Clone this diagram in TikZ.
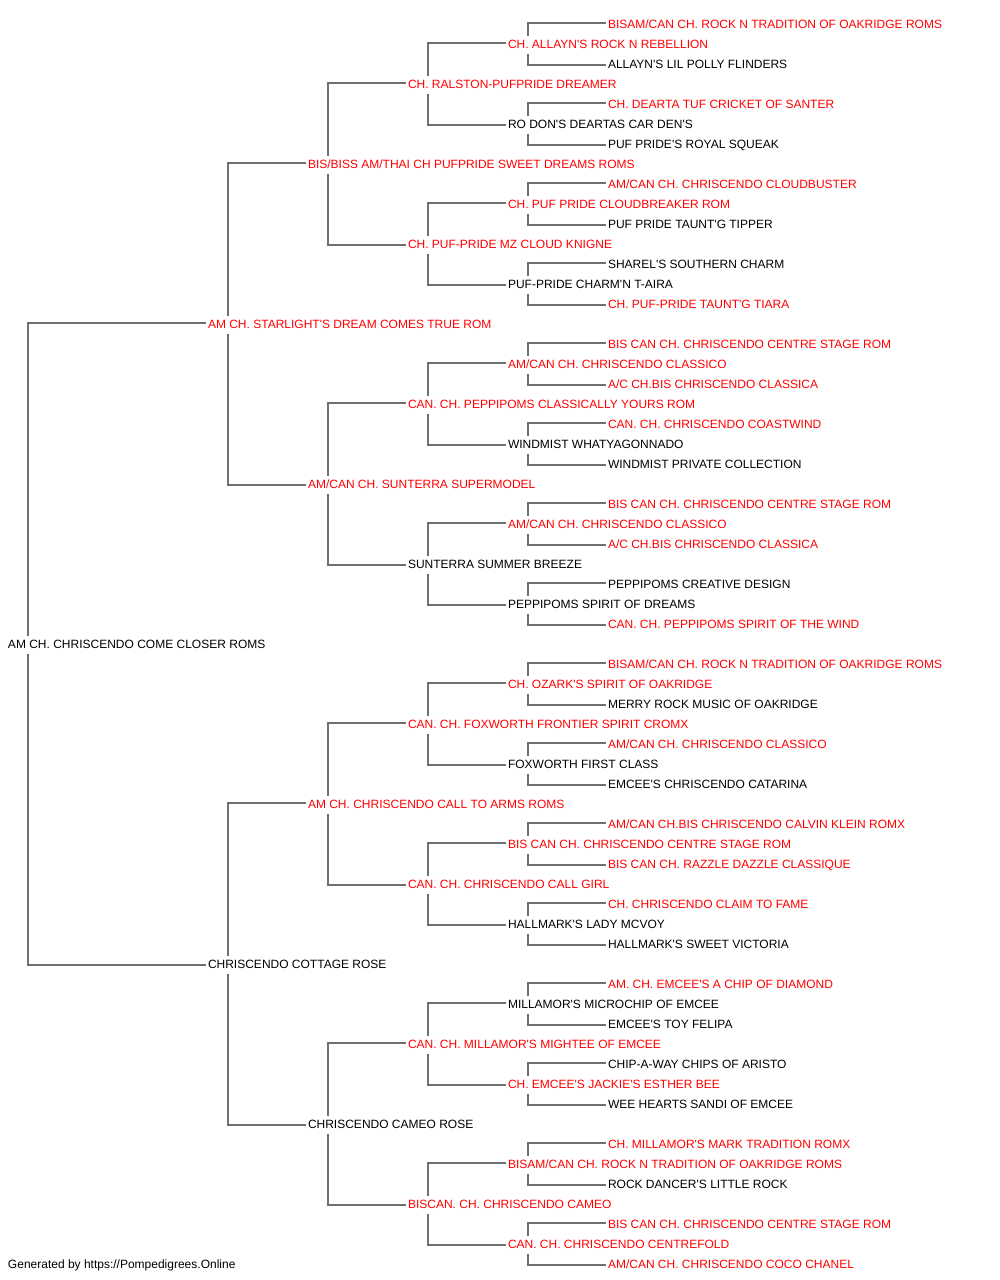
\documentclass[tikz,border=0pt]{standalone}
\usepackage{fontspec}
\newfontfamily\pf{Liberation Sans}
\definecolor{linkgray}{RGB}{112,112,112}
\definecolor{pedred}{RGB}{255,0,0}
\tikzset{
  nm/.style={anchor=base west, inner xsep=2.5pt, inner ysep=0pt, outer sep=0pt,
    text height=8.6pt, text depth=0pt, xshift=-2.5pt, yshift=-5pt,
    font=\pf\fontsize{12}{14}\selectfont},
  rd/.style={nm, text=pedred},
  bk/.style={nm, text=black},
  link/.style={draw=linkgray, line width=1.7pt}
}
\begin{document}
\begin{tikzpicture}[x=1pt,y=-1pt]
\useasboundingbox (0,0) rectangle (1000,1280);
\node[rd] (n0) at (608,23) {BISAM/CAN CH. ROCK N TRADITION OF OAKRIDGE ROMS};
\node[rd] (n1) at (508,43) {CH. ALLAYN'S ROCK N REBELLION};
\node[bk] (n2) at (608,63) {ALLAYN'S LIL POLLY FLINDERS};
\node[rd] (n3) at (408,83) {CH. RALSTON-PUFPRIDE DREAMER};
\node[rd] (n4) at (608,103) {CH. DEARTA TUF CRICKET OF SANTER};
\node[bk] (n5) at (508,123) {RO DON'S DEARTAS CAR DEN'S};
\node[bk] (n6) at (608,143) {PUF PRIDE'S ROYAL SQUEAK};
\node[rd] (n7) at (308,163) {BIS/BISS AM/THAI CH PUFPRIDE SWEET DREAMS ROMS};
\node[rd] (n8) at (608,183) {AM/CAN CH. CHRISCENDO CLOUDBUSTER};
\node[rd] (n9) at (508,203) {CH. PUF PRIDE CLOUDBREAKER ROM};
\node[bk] (n10) at (608,223) {PUF PRIDE TAUNT'G TIPPER};
\node[rd] (n11) at (408,243) {CH. PUF-PRIDE MZ CLOUD KNIGNE};
\node[bk] (n12) at (608,263) {SHAREL'S SOUTHERN CHARM};
\node[bk] (n13) at (508,283) {PUF-PRIDE CHARM'N T-AIRA};
\node[rd] (n14) at (608,303) {CH. PUF-PRIDE TAUNT'G TIARA};
\node[rd] (n15) at (208,323) {AM CH. STARLIGHT'S DREAM COMES TRUE ROM};
\node[rd] (n16) at (608,343) {BIS CAN CH. CHRISCENDO CENTRE STAGE ROM};
\node[rd] (n17) at (508,363) {AM/CAN CH. CHRISCENDO CLASSICO};
\node[rd] (n18) at (608,383) {A/C CH.BIS CHRISCENDO CLASSICA};
\node[rd] (n19) at (408,403) {CAN. CH. PEPPIPOMS CLASSICALLY YOURS ROM};
\node[rd] (n20) at (608,423) {CAN. CH. CHRISCENDO COASTWIND};
\node[bk] (n21) at (508,443) {WINDMIST WHATYAGONNADO};
\node[bk] (n22) at (608,463) {WINDMIST PRIVATE COLLECTION};
\node[rd] (n23) at (308,483) {AM/CAN CH. SUNTERRA SUPERMODEL};
\node[rd] (n24) at (608,503) {BIS CAN CH. CHRISCENDO CENTRE STAGE ROM};
\node[rd] (n25) at (508,523) {AM/CAN CH. CHRISCENDO CLASSICO};
\node[rd] (n26) at (608,543) {A/C CH.BIS CHRISCENDO CLASSICA};
\node[bk] (n27) at (408,563) {SUNTERRA SUMMER BREEZE};
\node[bk] (n28) at (608,583) {PEPPIPOMS CREATIVE DESIGN};
\node[bk] (n29) at (508,603) {PEPPIPOMS SPIRIT OF DREAMS};
\node[rd] (n30) at (608,623) {CAN. CH. PEPPIPOMS SPIRIT OF THE WIND};
\node[bk] (n31) at (8,643) {AM CH. CHRISCENDO COME CLOSER ROMS};
\node[rd] (n32) at (608,663) {BISAM/CAN CH. ROCK N TRADITION OF OAKRIDGE ROMS};
\node[rd] (n33) at (508,683) {CH. OZARK'S SPIRIT OF OAKRIDGE};
\node[bk] (n34) at (608,703) {MERRY ROCK MUSIC OF OAKRIDGE};
\node[rd] (n35) at (408,723) {CAN. CH. FOXWORTH FRONTIER SPIRIT CROMX};
\node[rd] (n36) at (608,743) {AM/CAN CH. CHRISCENDO CLASSICO};
\node[bk] (n37) at (508,763) {FOXWORTH FIRST CLASS};
\node[bk] (n38) at (608,783) {EMCEE'S CHRISCENDO CATARINA};
\node[rd] (n39) at (308,803) {AM CH. CHRISCENDO CALL TO ARMS ROMS};
\node[rd] (n40) at (608,823) {AM/CAN CH.BIS CHRISCENDO CALVIN KLEIN ROMX};
\node[rd] (n41) at (508,843) {BIS CAN CH. CHRISCENDO CENTRE STAGE ROM};
\node[rd] (n42) at (608,863) {BIS CAN CH. RAZZLE DAZZLE CLASSIQUE};
\node[rd] (n43) at (408,883) {CAN. CH. CHRISCENDO CALL GIRL};
\node[rd] (n44) at (608,903) {CH. CHRISCENDO CLAIM TO FAME};
\node[bk] (n45) at (508,923) {HALLMARK'S LADY MCVOY};
\node[bk] (n46) at (608,943) {HALLMARK'S SWEET VICTORIA};
\node[bk] (n47) at (208,963) {CHRISCENDO COTTAGE ROSE};
\node[rd] (n48) at (608,983) {AM. CH. EMCEE'S A CHIP OF DIAMOND};
\node[bk] (n49) at (508,1003) {MILLAMOR'S MICROCHIP OF EMCEE};
\node[bk] (n50) at (608,1023) {EMCEE'S TOY FELIPA};
\node[rd] (n51) at (408,1043) {CAN. CH. MILLAMOR'S MIGHTEE OF EMCEE};
\node[bk] (n52) at (608,1063) {CHIP-A-WAY CHIPS OF ARISTO};
\node[rd] (n53) at (508,1083) {CH. EMCEE'S JACKIE'S ESTHER BEE};
\node[bk] (n54) at (608,1103) {WEE HEARTS SANDI OF EMCEE};
\node[bk] (n55) at (308,1123) {CHRISCENDO CAMEO ROSE};
\node[rd] (n56) at (608,1143) {CH. MILLAMOR'S MARK TRADITION ROMX};
\node[rd] (n57) at (508,1163) {BISAM/CAN CH. ROCK N TRADITION OF OAKRIDGE ROMS};
\node[bk] (n58) at (608,1183) {ROCK DANCER'S LITTLE ROCK};
\node[rd] (n59) at (408,1203) {BISCAN. CH. CHRISCENDO CAMEO};
\node[rd] (n60) at (608,1223) {BIS CAN CH. CHRISCENDO CENTRE STAGE ROM};
\node[rd] (n61) at (508,1243) {CAN. CH. CHRISCENDO CENTREFOLD};
\node[rd] (n62) at (608,1263) {AM/CAN CH. CHRISCENDO COCO CHANEL};
\node[bk] (footer) at (8,1263) {Generated by https://Pompedigrees.Online};
\foreach \p/\o in {1/1,5/1,9/1,13/1,17/1,21/1,25/1,29/1,33/1,37/1,41/1,45/1,49/1,53/1,57/1,61/1,
  3/2,11/2,19/2,27/2,35/2,43/2,51/2,59/2, 7/4,23/4,39/4,55/4, 15/8,47/8, 31/16}{
  \pgfmathtruncatemacro\s{\p-\o}
  \pgfmathtruncatemacro\d{\p+\o}
  \draw[link] ([yshift=1pt]n\s.west) -| ([xshift=22.5pt,yshift=8pt]n\p.west);
  \draw[link] ([yshift=-1.3pt]n\d.west) -| ([xshift=22.5pt,yshift=-10pt]n\p.west);
}
\end{tikzpicture}
\end{document}
